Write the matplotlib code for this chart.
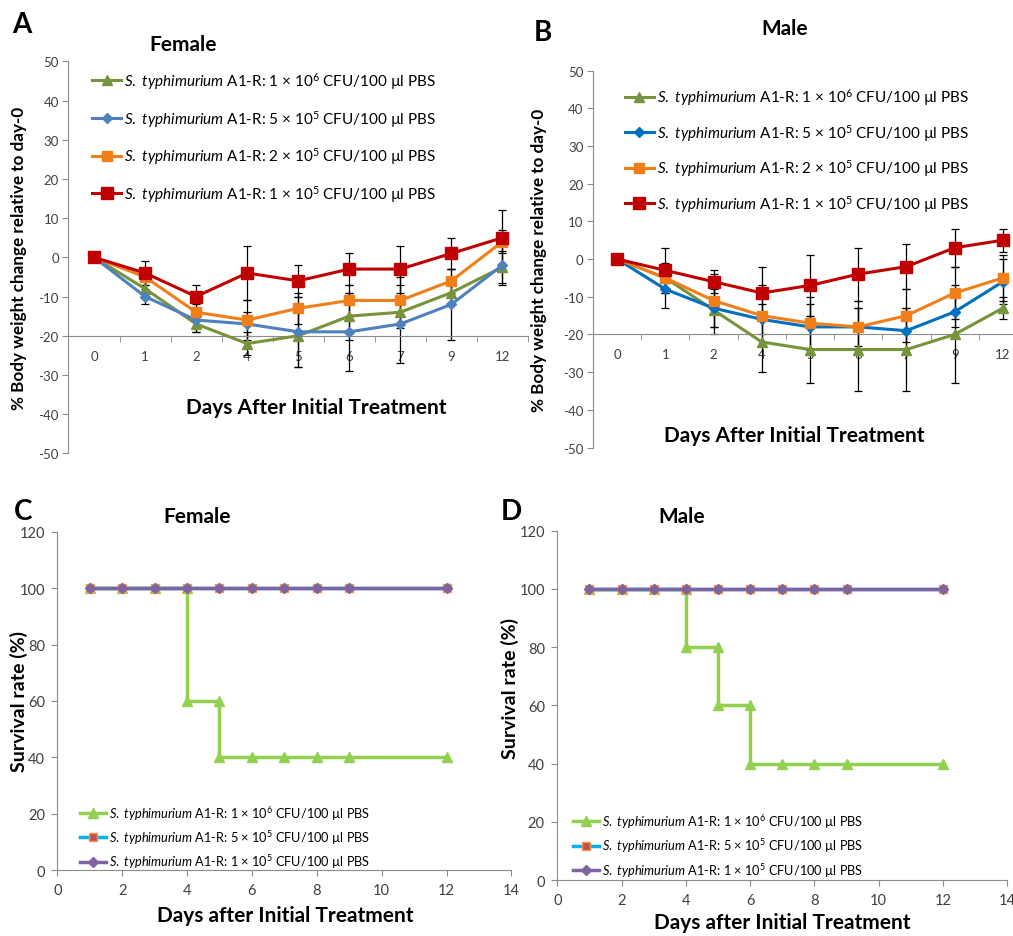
import numpy as np
import matplotlib
matplotlib.use('Agg')
import matplotlib.pyplot as plt

plt.rcParams['font.family'] = ['Lato', 'DejaVu Sans']
plt.rcParams['mathtext.fontset'] = 'custom'
plt.rcParams['mathtext.rm'] = 'Lato'
plt.rcParams['mathtext.it'] = 'Lato:italic'
plt.rcParams['mathtext.bf'] = 'Lato:bold'
plt.rcParams['axes.unicode_minus'] = False

# ---- body weight data (A: female, B: male) ----
day_labels = ['0', '1', '2', '4', '5', '6', '7', '9', '12']

female_1e6 = [0, -8, -17, -22, -20, -15, -14, -9, -2.5]
female_5e5 = [0, -10, -16, -17, -19, -19, -17, -12, -2]
female_2e5 = [0, -5, -14, -16, -13, -11, -11, -6, 4]
female_1e5 = [0, -4, -10, -4, -6, -3, -3, 1, 5]
female_1e6_sd = [0, 2, 2, 3, 8, 6, 4, 3, 4]
female_5e5_sd = [0, 2, 3, 3, 9, 10, 10, 9, 5]
female_2e5_sd = [0, 2, 2, 5, 4, 4, 6, 3, 3]
female_1e5_sd = [0, 3, 3, 7, 4, 4, 6, 4, 7]

male_1e6 = [0, -5, -13.5, -22, -24, -24, -24, -20, -13]
male_5e5 = [0, -8, -13, -16, -18, -18, -19, -14, -6]
male_2e5 = [0, -5, -11, -15, -17, -18, -15, -9, -5]
male_1e5 = [0, -3, -6, -9, -7, -4, -2, 3, 5]
male_1e6_sd = [0, 3, 6.5, 8, 9, 11, 11, 13, 3]
male_5e5_sd = [0, 5, 5, 4, 6, 5, 6, 4, 6]
male_2e5_sd = [0, 4, 7, 8, 7, 7, 7, 7, 6]
male_1e5_sd = [0, 6, 3, 7, 8, 7, 6, 5, 3]

# ---- survival data (C: female, D: male) ----
surv_days = [1, 2, 3, 4, 5, 6, 7, 8, 9, 12]
surv_all = [100, 100, 100, 100, 100, 100, 100, 100, 100, 100]
female_surv_days = [1, 2, 3, 4, 4, 5, 5, 6, 7, 8, 9, 12]
female_surv_1e6 = [100, 100, 100, 100, 60, 60, 40, 40, 40, 40, 40, 40]
male_surv_days = [1, 2, 3, 4, 4, 5, 5, 6, 6, 7, 8, 9, 12]
male_surv_1e6 = [100, 100, 100, 100, 80, 80, 60, 60, 40, 40, 40, 40, 40]


def label(n, e):
    return r'$\mathit{S.}$ $\mathit{typhimurium}$ A1-R: ' + n + r' × 10$^{' + e + r'}$ CFU/100 µl PBS'


lab_1e6 = label('1', '6')
lab_5e5 = label('5', '5')
lab_2e5 = label('2', '5')
lab_1e5 = label('1', '5')

axis_gray = '#8C8C8C'
tick_text = '#404040'


def weight_panel(ax, series, blue):
    x = np.arange(len(day_labels))
    styles = [
        (lab_1e6, '#77933C', '^', 7.5),
        (lab_5e5, blue, 'D', 5),
        (lab_2e5, '#F07F1A', 's', 6.5),
        (lab_1e5, '#C00000', 's', 8),
    ]
    for i, ((vals, sd), (lab, col, mk, ms)) in enumerate(zip(series, styles)):
        ax.errorbar(x, vals, yerr=sd, fmt='none', ecolor='black', elinewidth=0.9,
                    capsize=3, capthick=0.9, zorder=2)
        ax.plot(x, vals, color=col, marker=mk, markersize=ms, lw=2.2,
                markeredgecolor=col, label=lab, zorder=3 + i)
    ax.set_xlim(-0.5, 8.5)
    ax.set_ylim(-50, 50)
    ax.spines['top'].set_visible(False)
    ax.spines['right'].set_visible(False)
    ax.spines['bottom'].set_position(('data', -20))
    for s in ['left', 'bottom']:
        ax.spines[s].set_color(axis_gray)
    ax.set_xticks(x)
    ax.set_xticklabels(day_labels)
    ax.set_xticks(np.arange(-0.5, 9, 1), minor=True)
    ax.set_yticks(range(-50, 51, 10))
    ax.tick_params(axis='x', which='major', length=0, pad=10, labelsize=9.5, labelcolor=tick_text)
    ax.tick_params(axis='x', which='minor', length=4, color=axis_gray)
    ax.tick_params(axis='y', length=4, color=axis_gray, labelsize=9.5, labelcolor=tick_text, pad=3)


def survival_panel(ax, d1, s1):
    ax.plot(d1, s1, color='#92D050', marker='^', markersize=7, lw=2.5, label=lab_1e6, zorder=3)
    ax.plot(surv_days, surv_all, color='#00B0F0', marker='s', markersize=6, lw=2.5,
            markerfacecolor='#C0504D', markeredgecolor='#F79646', label=lab_5e5, zorder=4)
    ax.plot(surv_days, surv_all, color='#8064A2', marker='D', markersize=5, lw=2.5,
            label=lab_1e5, zorder=5)
    ax.set_xlim(0, 14)
    ax.set_ylim(0, 120)
    ax.set_xticks(range(0, 15, 2))
    ax.set_yticks(range(0, 121, 20))
    ax.spines['top'].set_visible(False)
    ax.spines['right'].set_visible(False)
    for s in ['left', 'bottom']:
        ax.spines[s].set_color(axis_gray)
    ax.tick_params(length=4, color=axis_gray, labelsize=10.5, labelcolor=tick_text, pad=5)


fig = plt.figure(figsize=(10.13, 9.37), dpi=100)

# A
axA = fig.add_axes([0.0676, 0.5151, 0.4536, 0.4184])
weight_panel(axA, [(female_1e6, female_1e6_sd), (female_5e5, female_5e5_sd),
                   (female_2e5, female_2e5_sd), (female_1e5, female_1e5_sd)], '#4F81BD')
axA.legend(loc='upper left', bbox_to_anchor=(0.035, 0.997), frameon=False, fontsize=11,
           labelspacing=1.1, handlelength=1.9, handletextpad=0.2, borderpad=0)
axA.text(-0.108, 0.5, '% Body weight change relative to day-0', transform=axA.transAxes,
         rotation=90, ha='center', va='center', fontsize=12.3, fontweight='bold')
axA.text(0.54, 0.118, 'Days After Initial Treatment', transform=axA.transAxes,
         ha='center', va='center', fontsize=15, fontweight='bold')

# B
axB = fig.add_axes([0.5854, 0.5213, 0.4284, 0.4023])
weight_panel(axB, [(male_1e6, male_1e6_sd), (male_5e5, male_5e5_sd),
                   (male_2e5, male_2e5_sd), (male_1e5, male_1e5_sd)], '#0070C0')
axB.legend(loc='upper left', bbox_to_anchor=(0.055, 0.978), frameon=False, fontsize=11,
           labelspacing=0.95, handlelength=1.9, handletextpad=0.2, borderpad=0)
axB.text(-0.124, 0.5, '% Body weight change relative to day-0', transform=axB.transAxes,
         rotation=90, ha='center', va='center', fontsize=12.3, fontweight='bold')
axB.text(0.463, 0.033, 'Days After Initial Treatment', transform=axB.transAxes,
         ha='center', va='center', fontsize=15, fontweight='bold')

# C
axC = fig.add_axes([0.0566, 0.0704, 0.4482, 0.3610])
survival_panel(axC, female_surv_days, female_surv_1e6)
axC.legend(loc='upper left', bbox_to_anchor=(0.035, 0.215), frameon=False, fontsize=9.2,
           labelspacing=0.5, handlelength=2.1, handletextpad=0.2, borderpad=0)
axC.text(-0.084, 0.5, 'Survival rate (%)', transform=axC.transAxes, rotation=90,
         ha='center', va='center', fontsize=14, fontweight='bold')
axC.text(0.5015, -0.133, 'Days after Initial Treatment', transform=axC.transAxes,
         ha='center', va='center', fontsize=15, fontweight='bold')

# D
axD = fig.add_axes([0.5501, 0.0597, 0.4442, 0.3728])
survival_panel(axD, male_surv_days, male_surv_1e6)
axD.legend(loc='upper left', bbox_to_anchor=(0.02, 0.213), frameon=False, fontsize=9.2,
           labelspacing=0.5, handlelength=2.1, handletextpad=0.2, borderpad=0)
axD.text(-0.106, 0.55, 'Survival rate (%)', transform=axD.transAxes, rotation=90,
         ha='center', va='center', fontsize=14, fontweight='bold')
axD.text(0.50, -0.12, 'Days after Initial Treatment', transform=axD.transAxes,
         ha='center', va='center', fontsize=15, fontweight='bold')

# panel letters and titles (figure pixel positions)
W, H = 1013, 937
for txt, x, y, fs in [('A', 22, 25, 20), ('B', 543, 33, 20), ('C', 23, 512, 20), ('D', 511, 512, 20),
                      ('Female', 183, 45, 15), ('Male', 785, 29, 15),
                      ('Female', 197, 517, 15), ('Male', 682, 517, 15)]:
    fig.text(x / W, 1 - y / H, txt, ha='center', va='center', fontsize=fs, fontweight='bold')

fig.savefig('out.png', dpi=100)
